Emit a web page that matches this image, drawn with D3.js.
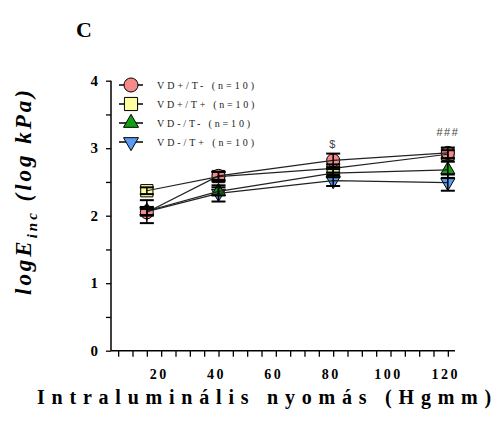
<!DOCTYPE html>
<html>
<head>
<meta charset="utf-8">
<script src="https://cdn.jsdelivr.net/npm/d3@7"></script>
<style>
  body { margin: 0; background: #fff; }
  svg { display: block; }
</style>
</head>
<body>
<svg id="chart" width="500" height="423"></svg>
<script>
// pressure steps (Hgmm)
const pressure = [15, 40, 80, 120];

// group means and SEM, logE_inc (log kPa)
const groups = ["VD+/T- (n=10)", "VD+/T+ (n=10)", "VD-/T- (n=10)", "VD-/T+ (n=10)"];
const vdpTm = [2.05, 2.59, 2.82, 2.93];
const vdpTmSem = [0.05, 0.06, 0.10, 0.08];
const vdpTp = [2.37, 2.58, 2.70, 2.91];
const vdpTpSem = [0.05, 0.07, 0.06, 0.06];
const vdmTm = [2.07, 2.36, 2.63, 2.68];
const vdmTmSem = [0.06, 0.06, 0.06, 0.12];
const vdmTp = [2.06, 2.33, 2.52, 2.49];
const vdmTpSem = [0.17, 0.12, 0.08, 0.12];

const xTicks = [20, 40, 60, 80, 100, 120];
const yTicks = [0, 1, 2, 3, 4];

// significance marks
const marks = [{ x: 80, y: 2.93, label: "$" }, { x: 120, y: 3.1, label: "###" }];

const colors = ["#f48a8a", "#ffffa0", "#12a012", "#5a9cf2"];
const shapes = [d3.symbolCircle, d3.symbolSquare, d3.symbolTriangle, "down"];
const sizes = [135, 150, 85, 85];

const series = [
  { name: groups[0], mean: vdpTm, sem: vdpTmSem },
  { name: groups[1], mean: vdpTp, sem: vdpTpSem },
  { name: groups[2], mean: vdmTm, sem: vdmTmSem },
  { name: groups[3], mean: vdmTp, sem: vdmTpSem }
];
series.forEach((s, i) => { s.color = colors[i]; s.shape = shapes[i]; s.size = sizes[i]; });

var svg = d3.select("#chart");

const x = d3.scaleLinear().domain([2.5, 122.5]).range([111, 455]);
const y = d3.scaleLinear().domain([0, 4]).range([350.7, 80.7]);

// stretch text with letter-spacing until it covers the given width
function fitWidth(sel, target) {
  const node = sel.node();
  const n = node.getNumberOfChars();
  const w = node.getComputedTextLength();
  sel.attr("letter-spacing", (target - w) / n);
}

function marker(g, s, k) {
  const size = s.size * k;
  if (s.shape === "down") {
    g.append("path")
      .attr("d", d3.symbol(d3.symbolTriangle, size)())
      .attr("transform", "rotate(180)");
  } else {
    g.append("path").attr("d", d3.symbol(s.shape, size)());
  }
  g.selectAll("path")
    .attr("fill", s.color)
    .attr("stroke", "#000")
    .attr("stroke-width", 1);
}

// axes
const xAxis = d3.axisBottom(x).tickValues(d3.range(5, 121, 5)).tickSize(6).tickFormat("");
svg.append("g")
  .attr("transform", `translate(0,${y(0)})`)
  .call(xAxis)
  .call(g => g.select(".domain").attr("d", `M${x(2.5)},0H${x(122.5)}`).attr("stroke-width", 1.5))
  .call(g => g.selectAll(".tick line").attr("stroke-width", 1.3));

const yAxis = d3.axisLeft(y).tickValues(d3.range(0, 4.01, 0.5)).tickSize(5).tickFormat("");
svg.append("g")
  .attr("transform", `translate(${x(2.5)},0)`)
  .call(yAxis)
  .call(g => g.select(".domain").attr("d", `M0,${y(4)}V${y(0)}`).attr("stroke-width", 1.5))
  .call(g => g.selectAll(".tick line").attr("stroke-width", 1.3));

svg.append("g").selectAll("text")
  .data(yTicks)
  .join("text")
  .attr("x", 98)
  .attr("y", d => y(d) + 5)
  .attr("text-anchor", "end")
  .attr("font-family", "Liberation Serif")
  .attr("font-weight", "bold")
  .attr("font-size", 15)
  .text(d => d);

svg.append("g").selectAll("text")
  .data(xTicks)
  .join("text")
  .attr("x", d => x(d) - 2)
  .attr("y", 379)
  .attr("text-anchor", "middle")
  .attr("font-family", "Liberation Serif")
  .attr("font-weight", "bold")
  .attr("font-size", 14)
  .attr("letter-spacing", 2.5)
  .text(d => d);

const plot = svg.append("g");

// markers first, lines and error bars go on top of them
series.slice().reverse().forEach(s => {
  s.mean.forEach((m, i) => {
    const g = plot.append("g").attr("transform", `translate(${x(pressure[i])},${y(m)})`);
    marker(g, s, 1);
  });
});

const line = d3.line().x((d, i) => x(pressure[i])).y(d => y(d));
series.slice().reverse().forEach(s => {
  plot.append("path")
    .attr("d", line(s.mean))
    .attr("fill", "none")
    .attr("stroke", "#222")
    .attr("stroke-width", 1.2);
});

series.slice().reverse().forEach(s => {
  const eb = plot.append("g");
  s.mean.forEach((m, i) => {
    const cx = x(pressure[i]);
    eb.append("line")
      .attr("x1", cx).attr("x2", cx)
      .attr("y1", y(m - s.sem[i])).attr("y2", y(m + s.sem[i]))
      .attr("stroke", "#000").attr("stroke-width", 1.5);
    [m - s.sem[i], m + s.sem[i]].forEach(v => {
      eb.append("line")
        .attr("x1", cx - 7).attr("x2", cx + 7)
        .attr("y1", y(v)).attr("y2", y(v))
        .attr("stroke", "#000").attr("stroke-width", 2);
    });
  });
});

// significance
svg.append("g").selectAll("text")
  .data(marks)
  .join("text")
  .attr("x", d => x(d.x))
  .attr("y", d => y(d.y) - 5)
  .attr("text-anchor", "middle")
  .attr("font-family", "Liberation Sans")
  .attr("font-size", 11)
  .attr("letter-spacing", 1.5)
  .attr("fill", "#444")
  .text(d => d.label);

// legend
const legend = svg.append("g");
series.forEach((s, i) => {
  const ly = 85 + i * 19;
  const g = legend.append("g").attr("transform", `translate(131,${ly})`);
  g.append("line").attr("x1", -12).attr("x2", 12).attr("stroke", "#000").attr("stroke-width", 1.5);
  marker(g, s, 1.15);
  const t = legend.append("text")
    .attr("x", 157)
    .attr("y", ly + 3.5)
    .attr("font-family", "Liberation Serif")
    .attr("font-size", 10)
    .attr("fill", "#222")
    .text(s.name);
  fitWidth(t, i === 2 ? 96 : 100);
});

// panel letter
svg.append("text")
  .attr("x", 76)
  .attr("y", 37)
  .attr("font-family", "Liberation Serif")
  .attr("font-weight", "bold")
  .attr("font-size", 22)
  .text("C");

// y title
const yt = svg.append("text")
  .attr("transform", "translate(31,295) rotate(-90)")
  .attr("font-family", "Liberation Serif")
  .attr("font-weight", "bold")
  .attr("font-style", "italic")
  .attr("font-size", 23);
yt.append("tspan").text("logE");
yt.append("tspan").attr("font-size", 15).attr("dy", 6).text("inc");
yt.append("tspan").attr("dy", -6).text(" (log kPa)");
fitWidth(yt, 208);

// x title
const xt = svg.append("text")
  .attr("x", 37)
  .attr("y", 404)
  .attr("font-family", "Liberation Serif")
  .attr("font-weight", "bold")
  .attr("font-size", 20)
  .text("Intraluminális nyomás (Hgmm)");
fitWidth(xt, 461);
</script>
</body>
</html>
